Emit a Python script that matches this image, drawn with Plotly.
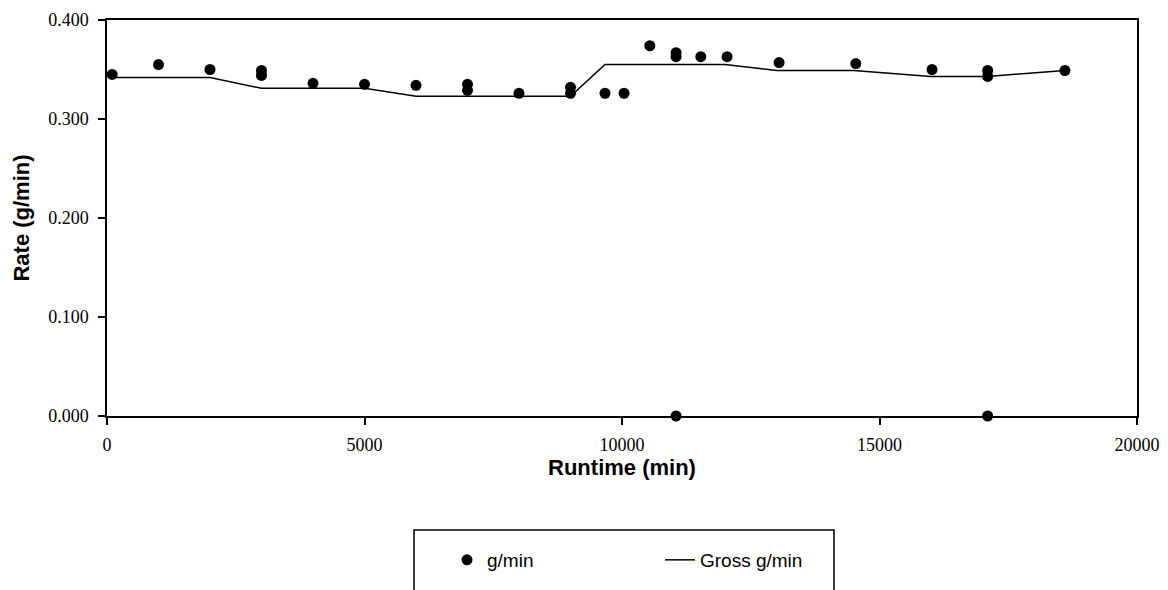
import plotly.graph_objects as go

# Measured points (g/min)
pt_x = [100, 1000, 2000, 3000, 3000, 4000, 5000, 6000, 7000, 7000, 8000,
        9000, 9000, 9670, 10040, 10540, 11050, 11050, 11050, 11530, 12040,
        13050, 14540, 16020, 17100, 17100, 17100, 18600]
pt_y = [0.345, 0.355, 0.350, 0.349, 0.344, 0.336, 0.335, 0.334, 0.335, 0.329,
        0.326, 0.332, 0.326, 0.326, 0.326, 0.374, 0.367, 0.363, 0.000, 0.363,
        0.363, 0.357, 0.356, 0.350, 0.349, 0.343, 0.000, 0.349]

# Gross g/min line
gross_x = [100, 2000, 3000, 5000, 6000, 9000, 9670, 12000, 13000, 14500,
           16000, 17100, 18600]
gross_y = [0.342, 0.342, 0.331, 0.331, 0.323, 0.323, 0.355, 0.355, 0.349,
           0.349, 0.343, 0.343, 0.349]

y_ticks = [0.0, 0.1, 0.2, 0.3, 0.4]
x_ticks = [0, 5000, 10000, 15000, 20000]

fig = go.Figure()
fig.add_trace(go.Scatter(x=pt_x, y=pt_y, mode="markers", name="g/min",
                         marker=dict(color="black", size=11, symbol="circle"),
                         cliponaxis=False))
fig.add_trace(go.Scatter(x=gross_x, y=gross_y, mode="lines", name="Gross g/min",
                         line=dict(color="black", width=1.5)))

serif = "Liberation Serif"
sans = "Liberation Sans"

# page body has an 8px margin: plot area target = x 107..1137, y 20..416
OFF = 8
PL, PR, PT, PB = 107, 1137, 20, 416
W, H = 1168 - OFF, 590 - OFF
pw, ph = PR - PL, PB - PT


def px(v):
    return (v - PL) / pw


def py(v):
    return (PB - v) / ph


fig.update_layout(
    width=W, height=H,
    margin=dict(l=PL - OFF, r=W + OFF - PR, t=PT - OFF, b=H + OFF - PB,
                autoexpand=False),
    paper_bgcolor="white", plot_bgcolor="white",
    showlegend=True,
    legend=dict(orientation="h", x=px(447), xanchor="left",
                y=py(560), yanchor="middle",
                entrywidth=168, entrywidthmode="pixels",
                font=dict(family=sans, size=19, color="black"),
                bgcolor="rgba(0,0,0,0)"),
    xaxis=dict(range=[0, 20000], tickvals=x_ticks,
               ticktext=[str(v) for v in x_ticks], automargin=False,
               showgrid=False, zeroline=False,
               showline=True, linecolor="black", linewidth=1.5, mirror=True,
               ticks="outside", ticklen=7, tickwidth=1.5, tickcolor="black",
               ticklabelstandoff=5,
               tickfont=dict(family=serif, size=18, color="black"),
               title=dict(text="<b>Runtime (min)</b>", standoff=4,
                          font=dict(family=sans, size=22, color="black"))),
    yaxis=dict(range=[0, 0.4], tickvals=y_ticks, tickformat=".3f",
               automargin=False,
               showgrid=False, zeroline=False,
               showline=True, linecolor="black", linewidth=1.5, mirror=True,
               ticks="outside", ticklen=7, tickwidth=1.5, tickcolor="black",
               ticklabelstandoff=6,
               tickfont=dict(family=serif, size=18, color="black"),
               title=dict(text="<b>Rate (g/min)</b>", standoff=12,
                          font=dict(family=sans, size=22, color="black"))),
    shapes=[dict(type="rect", xref="paper", yref="paper",
                 x0=px(414), x1=px(834), y0=py(530), y1=py(640),
                 line=dict(color="black", width=1.5))],
)

fig.write_html("out.html")
